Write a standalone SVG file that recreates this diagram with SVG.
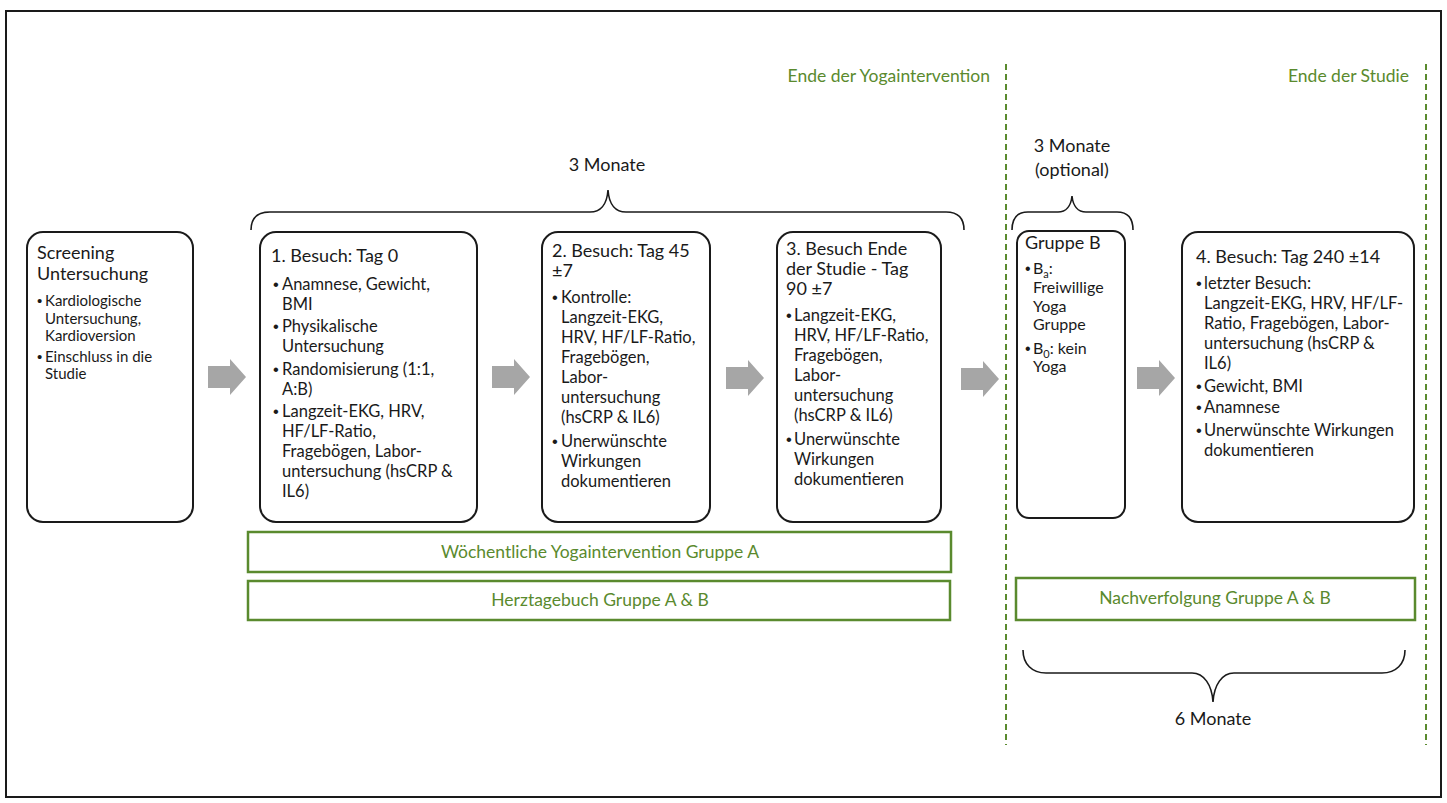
<svg xmlns="http://www.w3.org/2000/svg" xmlns:xlink="http://www.w3.org/1999/xlink" width="1447" height="803" viewBox="0 0 1447 803">
<style>
text{font-family:Lato,"Liberation Sans",sans-serif;fill:#1a1a1a}
.box{fill:#fff;stroke:#1a1a1a;stroke-width:2}
.h{font-size:18px}
.b{font-size:16.5px}
.s{font-size:15px}
.g{font-size:16px}
.bl{font-family:"Liberation Sans",sans-serif}
.sub{font-size:11px;baseline-shift:-4px}
.gt{font-size:17.5px;fill:#5a8a2e}
.gbox{fill:#fff;stroke:#5a8a2e;stroke-width:2.5}
.dash{stroke:#5a8a2e;stroke-width:2;stroke-dasharray:6 4;fill:none}
.brace{fill:none;stroke:#1a1a1a;stroke-width:1.6}
.arr{fill:#a6a6a6}
</style>
<defs>
<polygon id="arrow" points="0,-11 22,-11 22,-18 38,0 22,18 22,11 0,11"/>
</defs>
<rect x="6" y="11" width="1435" height="786" fill="#fff" stroke="#1a1a1a" stroke-width="2"/>

<g id="markers">
<line class="dash" x1="1006" y1="64" x2="1006" y2="745"/>
<line class="dash" x1="1426" y1="64" x2="1426" y2="745"/>
<text class="gt" x="990" y="82" text-anchor="end">Ende der Yogaintervention</text>
<text class="gt" x="1409" y="82" text-anchor="end">Ende der Studie</text>
</g>

<g id="braces">
<text class="h" x="607" y="171" text-anchor="middle">3 Monate</text>
<path class="brace" d="M251,230 C251,218 258,212 270,212 L590,212 C600,212 607,205 608,190 C609,205 616,212 626,212 L946,212 C958,212 964,218 964,230"/>
<text class="h" x="1072" y="152" text-anchor="middle">3 Monate</text>
<text class="h" x="1072" y="176" text-anchor="middle">(optional)</text>
<path class="brace" d="M1012,230 C1012,218 1018,212 1028,212 L1058,212 C1066,212 1071,206 1072,196 C1073,206 1078,212 1086,212 L1117,212 C1127,212 1133,218 1133,230"/>
<path class="brace" d="M1023,650 C1023,664 1032,673 1046,673 L1192,673 C1204,673 1212,685 1213,702 C1214,685 1222,673 1234,673 L1382,673 C1396,673 1405,664 1405,650"/>
<text class="h" x="1213" y="725" text-anchor="middle">6 Monate</text>
</g>

<g id="connectors">
<use href="#arrow" xlink:href="#arrow" class="arr" x="208" y="377"/>
<use href="#arrow" xlink:href="#arrow" class="arr" x="492" y="377"/>
<use href="#arrow" xlink:href="#arrow" class="arr" x="726" y="378"/>
<use href="#arrow" xlink:href="#arrow" class="arr" x="961" y="379"/>
<use href="#arrow" xlink:href="#arrow" class="arr" x="1137" y="378"/>
</g>

<g id="screening">
<rect class="box" x="27" y="232" width="166" height="290" rx="16"/>
<text class="h" x="37" y="259">Screening</text>
<text class="h" x="37" y="280">Untersuchung</text>
<text class="s" y="306"><tspan class="bl" x="37">•</tspan><tspan x="45">Kardiologische</tspan></text>
<text class="s" x="45" y="323.5">Untersuchung,</text>
<text class="s" x="45" y="341">Kardioversion</text>
<text class="s" y="362"><tspan class="bl" x="37">•</tspan><tspan x="45">Einschluss in die</tspan></text>
<text class="s" x="45" y="379">Studie</text>
</g>

<g id="besuch1">
<rect class="box" x="260" y="232" width="217" height="290" rx="16"/>
<text class="h" x="271" y="262">1. Besuch: Tag 0</text>
<text class="b" y="290"><tspan class="bl" x="273">•</tspan><tspan x="282">Anamnese, Gewicht,</tspan></text>
<text class="b" x="282" y="310">BMI</text>
<text class="b" y="332"><tspan class="bl" x="273">•</tspan><tspan x="282">Physikalische</tspan></text>
<text class="b" x="282" y="352">Untersuchung</text>
<text class="b" y="375"><tspan class="bl" x="273">•</tspan><tspan x="282">Randomisierung (1:1,</tspan></text>
<text class="b" x="282" y="395">A:B)</text>
<text class="b" y="417"><tspan class="bl" x="273">•</tspan><tspan x="282">Langzeit-EKG, HRV,</tspan></text>
<text class="b" x="282" y="437">HF/LF-Ratio,</text>
<text class="b" x="282" y="457">Fragebögen, Labor-</text>
<text class="b" x="282" y="477">untersuchung (hsCRP &amp;</text>
<text class="b" x="282" y="497">IL6)</text>
</g>

<g id="besuch2">
<rect class="box" x="542" y="232" width="168" height="290" rx="16"/>
<text class="h" x="552" y="257">2. Besuch: Tag 45</text>
<text class="h" x="552" y="277">±7</text>
<text class="b" y="303"><tspan class="bl" x="552">•</tspan><tspan x="561">Kontrolle:</tspan></text>
<text class="b" x="561" y="323">Langzeit-EKG,</text>
<text class="b" x="561" y="343">HRV, HF/LF-Ratio,</text>
<text class="b" x="561" y="363">Fragebögen,</text>
<text class="b" x="561" y="383">Labor-</text>
<text class="b" x="561" y="403">untersuchung</text>
<text class="b" x="561" y="423">(hsCRP &amp; IL6)</text>
<text class="b" y="447"><tspan class="bl" x="552">•</tspan><tspan x="561">Unerwünschte</tspan></text>
<text class="b" x="561" y="467">Wirkungen</text>
<text class="b" x="561" y="487">dokumentieren</text>
</g>

<g id="besuch3">
<rect class="box" x="777" y="232" width="164" height="290" rx="16"/>
<text class="h" x="786" y="255">3. Besuch Ende</text>
<text class="h" x="786" y="275">der Studie - Tag</text>
<text class="h" x="786" y="295">90 ±7</text>
<text class="b" y="321"><tspan class="bl" x="786">•</tspan><tspan x="794">Langzeit-EKG,</tspan></text>
<text class="b" x="794" y="341">HRV, HF/LF-Ratio,</text>
<text class="b" x="794" y="361">Fragebögen,</text>
<text class="b" x="794" y="381">Labor-</text>
<text class="b" x="794" y="401">untersuchung</text>
<text class="b" x="794" y="421">(hsCRP &amp; IL6)</text>
<text class="b" y="445"><tspan class="bl" x="786">•</tspan><tspan x="794">Unerwünschte</tspan></text>
<text class="b" x="794" y="465">Wirkungen</text>
<text class="b" x="794" y="485">dokumentieren</text>
</g>

<g id="gruppeB">
<rect class="box" x="1017" y="231" width="108" height="287" rx="12"/>
<text class="h" x="1025" y="249">Gruppe B</text>
<text class="g" y="274"><tspan class="bl" x="1025">•</tspan><tspan x="1033">B<tspan class="sub">a</tspan>:</tspan></text>
<text class="g" x="1033" y="293">Freiwillige</text>
<text class="g" x="1033" y="312">Yoga</text>
<text class="g" x="1033" y="330">Gruppe</text>
<text class="g" y="354"><tspan class="bl" x="1025">•</tspan><tspan x="1033">B<tspan class="sub">0</tspan>: kein</tspan></text>
<text class="g" x="1033" y="372">Yoga</text>
</g>

<g id="besuch4">
<rect class="box" x="1182" y="232" width="232" height="290" rx="16"/>
<text class="h" x="1196" y="263">4. Besuch: Tag 240 ±14</text>
<text class="b" y="289"><tspan class="bl" x="1196">•</tspan><tspan x="1204">letzter Besuch:</tspan></text>
<text class="b" x="1204" y="309">Langzeit-EKG, HRV, HF/LF-</text>
<text class="b" x="1204" y="329">Ratio, Fragebögen, Labor-</text>
<text class="b" x="1204" y="349">untersuchung (hsCRP &amp;</text>
<text class="b" x="1204" y="369">IL6)</text>
<text class="b" y="392"><tspan class="bl" x="1196">•</tspan><tspan x="1204">Gewicht, BMI</tspan></text>
<text class="b" y="413"><tspan class="bl" x="1196">•</tspan><tspan x="1204">Anamnese</tspan></text>
<text class="b" y="436"><tspan class="bl" x="1196">•</tspan><tspan x="1204">Unerwünschte Wirkungen</tspan></text>
<text class="b" x="1204" y="456">dokumentieren</text>
</g>

<g id="yoga-A">
<rect class="gbox" x="248" y="532" width="703" height="40"/>
<text class="gt" x="600" y="558" text-anchor="middle">Wöchentliche Yogaintervention Gruppe A</text>
</g>
<g id="herztagebuch">
<rect class="gbox" x="248" y="581" width="702" height="39"/>
<text class="gt" x="600" y="606" text-anchor="middle">Herztagebuch Gruppe A &amp; B</text>
</g>
<g id="nachverfolgung">
<rect class="gbox" x="1016" y="578" width="399" height="42"/>
<text class="gt" x="1215" y="604" text-anchor="middle">Nachverfolgung Gruppe A &amp; B</text>
</g>
</svg>
